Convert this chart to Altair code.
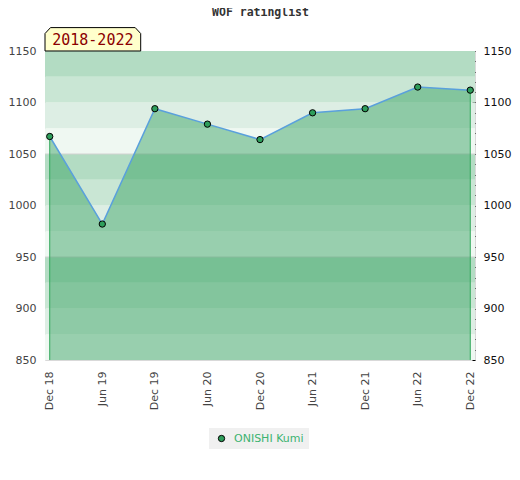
import altair as alt
import pandas as pd

# ---- data ----
dates = ["Dec 18", "Jun 19", "Dec 19", "Jun 20", "Dec 20", "Jun 21", "Dec 21", "Jun 22", "Dec 22"]
ratings = [1067, 982, 1094, 1079, 1064, 1090, 1094, 1115, 1112]
player = "ONISHI Kumi"
title_text = "WOF ratinglist"
period_label = "2018-2022"
y_min, y_max = 850, 1150
left_ticks = [850, 900, 950, 1000, 1050, 1100, 1150]
right_ticks = list(range(850, 1151, 10))
separators = [950, 1050]

# ---- styling ----
W, H = 430, 309
band_colors = ["#eff8f2", "#ddeee4", "#c9e6d4", "#b3dcc3"]
area_color = "#2e9e5b"
line_color = "#5aa0dc"
point_color = "#2e9e5b"
edge_color = "#33a85c"

df = pd.DataFrame({"date": dates, "rating": ratings, "player": [player] * len(dates)})

band_lo = list(range(y_min, y_max, 25))
bands = pd.DataFrame({
    "lo": band_lo,
    "hi": [v + 25 for v in band_lo],
    "color": [band_colors[((v - y_min) // 25) % 4] for v in band_lo],
})

y_scale = alt.Scale(domain=[y_min, y_max], nice=False, zero=False)
x_scale = alt.Scale(type="point", padding=0.09)
x_axis = alt.Axis(labelAngle=-90, ticks=False, domain=False, grid=False, labelPadding=11,
                  labelColor="#444444", labelFont="DejaVu Sans", labelFontSize=11, title=None)
x_enc = alt.X("date:O", sort=dates, scale=x_scale, axis=x_axis)

band_layer = alt.Chart(bands).mark_rect().encode(
    x=alt.value(0), x2=alt.value(W),
    y=alt.Y("lo:Q", scale=y_scale,
            axis=alt.Axis(orient="left", values=left_ticks, format="d", ticks=False, domain=False,
                          grid=False, labelPadding=9, labelColor="#444444", labelFont="DejaVu Sans",
                          labelFontSize=11, title=None)),
    y2="hi:Q",
    fill=alt.Fill("color:N", scale=None),
)

sep_layer = alt.Chart(pd.DataFrame({"v": separators})).mark_rule(color="#d2d2d2", strokeWidth=1).encode(
    x=alt.value(0), x2=alt.value(W),
    y=alt.Y("v:Q", scale=y_scale,
            axis=alt.Axis(orient="right", values=right_ticks, format="d",
                          labelExpr="datum.value % 50 == 0 ? datum.label : ''",
                          offset=-3, tickSize=3, tickColor="black", domain=False, grid=False,
                          labelPadding=8, labelColor="#111111", labelFont="DejaVu Sans",
                          labelFontSize=11, labelOverlap=False, title=None)),
)

area_layer = alt.Chart(df).mark_area(color=area_color, opacity=0.45).encode(
    x=x_enc,
    y=alt.Y("rating:Q", scale=y_scale, axis=None),
    y2=alt.datum(y_min),
)

edge_layer = alt.Chart(df.iloc[[0, -1]]).mark_rule(color=edge_color, strokeWidth=1).encode(
    x=x_enc,
    y=alt.Y("rating:Q", scale=y_scale, axis=None),
    y2=alt.datum(y_min),
)

line_layer = alt.Chart(df).mark_line(color=line_color, strokeWidth=1.5).encode(
    x=x_enc,
    y=alt.Y("rating:Q", scale=y_scale, axis=None),
)

point_layer = alt.Chart(df).mark_point(filled=True, stroke="black", strokeWidth=1, size=40, opacity=1).encode(
    x=x_enc,
    y=alt.Y("rating:Q", scale=y_scale, axis=None),
    fill=alt.Fill("player:N", scale=alt.Scale(domain=[player], range=[point_color]),
                  legend=alt.Legend(title=None, orient="none", legendX=164, legendY=377,
                                    direction="horizontal", fillColor="#f0f0f0", padding=5,
                                    symbolType="circle", symbolSize=40, symbolStrokeColor="black",
                                    symbolStrokeWidth=1, symbolOffset=2,
                                    labelExpr="datum.label + '  '",
                                    labelColor="#3cb371", labelFontSize=11,
                                    labelFont="DejaVu Sans", labelOffset=7)),
)

box_path = "M-1,0.2445L-1,-0.12L-0.885,-0.2445L0.885,-0.2445L1,-0.12L1,0.2445Z"
box_layer = alt.Chart(pd.DataFrame({"t": [period_label]})).mark_point(
    shape=box_path, size=9158, filled=True, fill="#ffffcc", stroke="black", strokeWidth=1, opacity=1
).encode(x=alt.value(47.85), y=alt.value(-11.7))

box_text = alt.Chart(pd.DataFrame({"t": [period_label]})).mark_text(
    font="DejaVu Sans Mono", fontSize=15, color="#8b0000", align="center", baseline="middle"
).encode(x=alt.value(47.85), y=alt.value(-11), text="t:N")

title_layer = alt.Chart(pd.DataFrame({"t": [title_text]})).mark_text(
    font="DejaVu Sans Mono", fontSize=11.5, fontWeight="bold", color="#333333",
    align="center", baseline="middle"
).encode(x=alt.value(215.5), y=alt.value(-37.7), text="t:N")

chart = alt.layer(
    band_layer, sep_layer, area_layer, edge_layer, line_layer, point_layer,
    box_layer, box_text, title_layer
).resolve_axis(y="independent", x="shared").properties(
    width=W, height=H,
    autosize=alt.AutoSizeParams(type="none"),
    padding={"left": 37, "top": 43, "right": 37, "bottom": 100},
).configure_view(stroke="#d9d9d9", strokeWidth=1)

chart.save("out.html", embed_options={"renderer": "svg", "actions": False})
